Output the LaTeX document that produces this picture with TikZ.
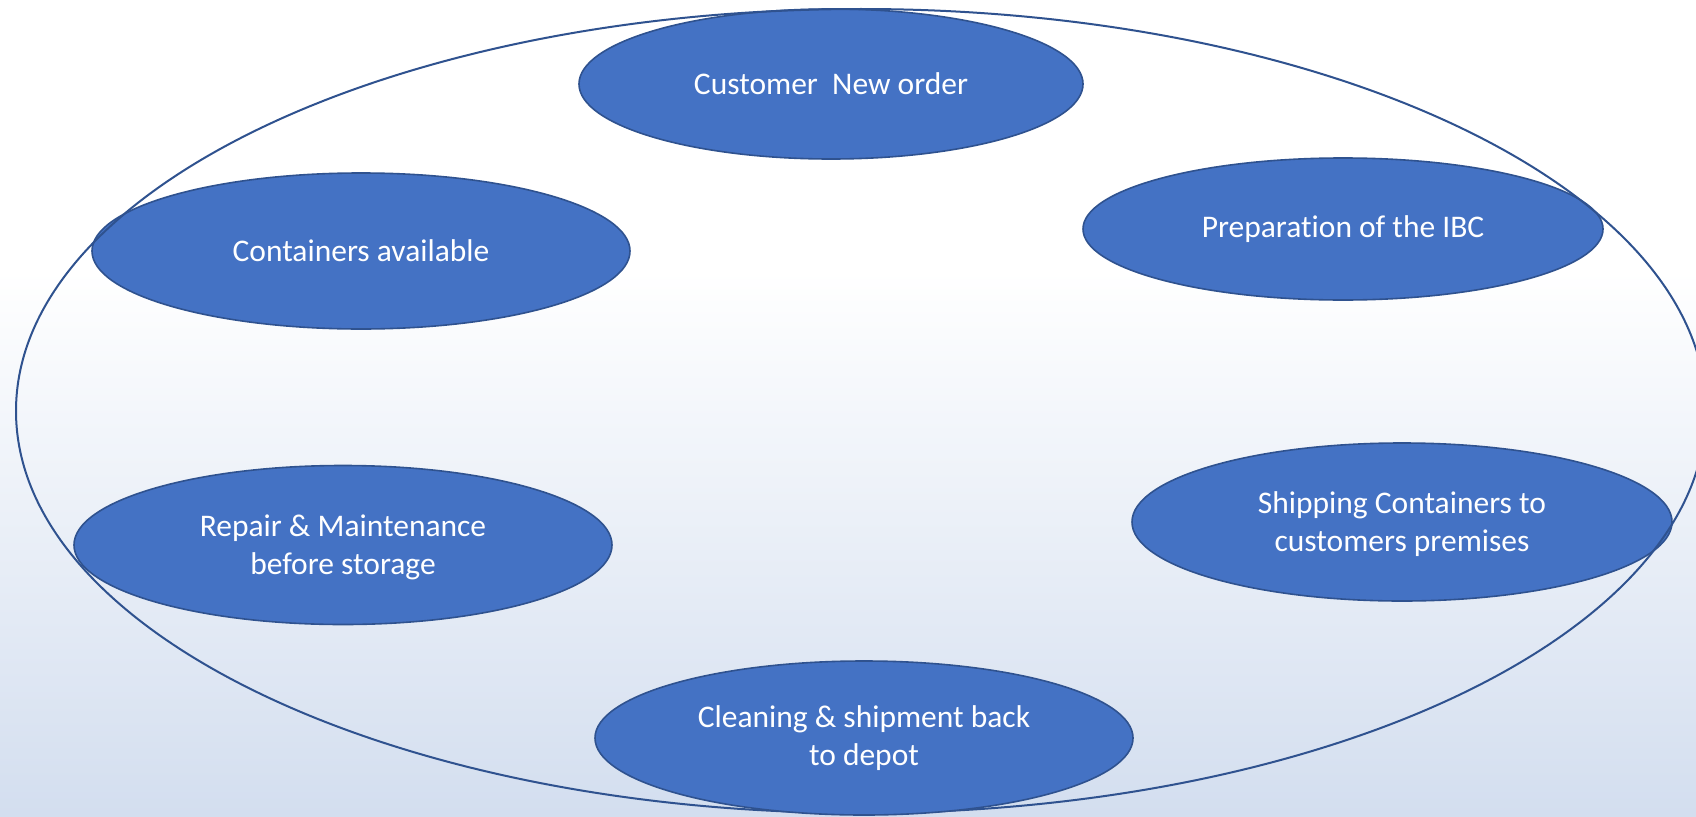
\documentclass[tikz,border=0pt]{standalone}
\usepackage{fontspec}
\setmainfont{Carlito}[Ligatures=NoCommon]
\usetikzlibrary{shapes.geometric}
\definecolor{bubblefill}{RGB}{68,114,196}
\definecolor{bubbleline}{RGB}{47,82,143}
\definecolor{bgbottom}{RGB}{211,222,239}
\tikzset{
  bubble/.style={ellipse, draw=bubbleline, line width=1.6pt, fill=bubblefill,
    text=white, inner sep=0pt, align=center,
    font=\fontsize{31.5}{38}\selectfont},
  ring/.style={ellipse, draw=bubbleline, line width=2pt, inner sep=0pt}
}
\begin{document}
\begin{tikzpicture}[x=1pt,y=-1pt]
\useasboundingbox (0,0) rectangle (1696,816);
\fill[white] (0,0) rectangle (1696,816);
\shade[top color=white, bottom color=bgbottom] (0,270) rectangle (1696,816);
\begin{scope}
\clip (0,0) rectangle (1696,816);
\node[bubble, minimum width=504pt, minimum height=150pt] (order) at (831,84) {Customer\ \ New order};
\node[bubble, minimum width=538pt, minimum height=156pt] (avail) at (361,251) {Containers available};
\node[bubble, minimum width=520pt, minimum height=142pt] (prep) at (1343,229) {Preparation of the IBC};
\node[bubble, minimum width=538pt, minimum height=159pt, text depth=0pt] (repair) at (343,545) {Repair \& Maintenance\\before storage};
\node[bubble, minimum width=540pt, minimum height=158pt, text depth=0pt] (ship) at (1402,522) {Shipping Containers to\\customers premises};
\node[ring, minimum width=1690pt, minimum height=804pt] (cycle) at (861,411) {};
\node[bubble, minimum width=538pt, minimum height=154pt] (clean) at (864,738) {Cleaning \& shipment back\\to depot};
\end{scope}
\end{tikzpicture}
\end{document}
